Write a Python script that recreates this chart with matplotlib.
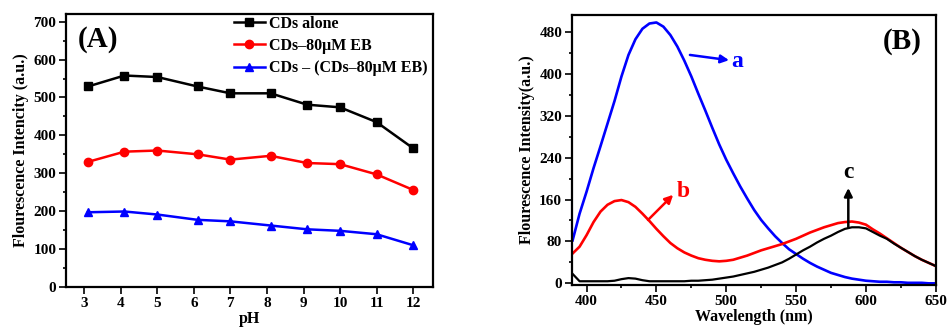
import numpy as np
import matplotlib
matplotlib.use("Agg")
import matplotlib.pyplot as plt
from matplotlib.ticker import MultipleLocator

plt.rcParams['font.family'] = ['Liberation Serif', 'DejaVu Serif']
plt.rcParams['font.weight'] = 'bold'
plt.rcParams['axes.labelweight'] = 'bold'
plt.rcParams['mathtext.default'] = 'regular'

# (A) intensity vs pH
ph = [3.1, 4.1, 5.0, 6.1, 7.0, 8.1, 9.1, 10.0, 11.0, 12.0]
cds_alone = [529, 558, 554, 529, 511, 511, 481, 474, 435, 366]
cds_eb = [330, 357, 360, 350, 336, 346, 327, 324, 297, 256]
cds_diff = [197, 199, 191, 177, 173, 162, 152, 148, 139, 110]

# (B) emission spectra, 390-650 nm every 5 nm
wl = list(range(390, 651, 5))
spec_a = [82, 133, 175, 220, 262, 305, 348, 395, 436, 466, 486, 496, 498, 490,
          474, 452, 425, 395, 362, 330, 297, 265, 236, 210, 185, 162, 140, 121,
          105, 90, 77, 65, 56, 47, 39, 32, 26, 20, 16, 12, 9, 7, 5, 4, 3, 3, 2,
          2, 1, 1, 1, 0, 0]
spec_b = [57, 70, 92, 117, 137, 150, 157, 159, 155, 146, 133, 119, 104, 90,
          77, 67, 59, 53, 48, 45, 43, 42, 43, 45, 49, 53, 58, 63, 67, 71, 75,
          80, 85, 91, 97, 102, 107, 111, 115, 117, 118, 116, 112, 103, 95, 86,
          77, 68, 60, 52, 45, 39, 33]
spec_c = [18, 4, 4, 4, 4, 4, 5, 8, 10, 9, 6, 4, 4, 4, 4, 4, 4, 5, 5, 6, 7, 9,
          11, 13, 16, 19, 22, 26, 30, 35, 40, 47, 55, 63, 70, 78, 85, 91, 98,
          104, 107, 107, 105, 98, 91, 85, 76, 68, 60, 52, 45, 39, 33]

fig = plt.figure(figsize=(9.5, 3.29), dpi=100)
axA = fig.add_axes([0.0695, 0.128, 0.3865, 0.829])
axB = fig.add_axes([0.602, 0.134, 0.383, 0.820])

axA.plot(ph, cds_alone, '-s', color='black', lw=1.8, ms=5.5, label='CDs alone')
axA.plot(ph, cds_eb, '-o', color='red', lw=1.8, ms=6, label='CDs\u201380\u03bcM EB')
axA.plot(ph, cds_diff, '-^', color='blue', lw=1.8, ms=6,
         label='CDs \u2013 (CDs\u201380\u03bcM EB)')
axA.set_xlim(2.5, 12.55)
axA.set_ylim(0, 720)
axA.set_xticks(range(3, 13))
axA.yaxis.set_major_locator(MultipleLocator(100))
axA.yaxis.set_minor_locator(MultipleLocator(50))
axA.set_xlabel('pH', fontsize=11.5, labelpad=1)
axA.set_ylabel('Flourescence Intencity (a.u.)', fontsize=11.5, labelpad=3)
axA.text(3.38, 652, '(A)', fontsize=21, ha='center', va='center')
axA.legend(loc='upper right', bbox_to_anchor=(1.01, 1.03), frameon=False,
           fontsize=11.5, handlelength=2.0, handletextpad=0.2, labelspacing=0.4,
           borderaxespad=0.2)

axB.plot(wl, spec_a, color='blue', lw=1.9)
axB.plot(wl, spec_b, color='red', lw=1.9)
axB.plot(wl, spec_c, color='black', lw=1.6)
axB.set_xlim(389.5, 650)
axB.set_ylim(-3, 512)
axB.xaxis.set_major_locator(MultipleLocator(50))
axB.xaxis.set_minor_locator(MultipleLocator(25))
axB.yaxis.set_major_locator(MultipleLocator(80))
axB.yaxis.set_minor_locator(MultipleLocator(40))
axB.set_xlabel('Wavelength (nm)', fontsize=11.5, labelpad=1)
axB.set_ylabel('Flourescence Intensity(a.u.)', fontsize=11.5, labelpad=3)
axB.text(626, 461, '(B)', fontsize=21, ha='center', va='center')

arrow = dict(arrowstyle='-|>', lw=1.8, mutation_scale=12, shrinkA=0, shrinkB=0)
axB.annotate('', xy=(502, 426), xytext=(474, 436),
             arrowprops=dict(arrow, color='blue'))
axB.text(508, 423, 'a', color='blue', fontsize=17, ha='center', va='center')
axB.annotate('', xy=(462, 169), xytext=(444, 121),
             arrowprops=dict(arrow, color='red'))
axB.text(469.5, 175, 'b', color='red', fontsize=17, ha='center', va='center')
axB.annotate('', xy=(587.4, 182), xytext=(587.4, 107),
             arrowprops=dict(arrow, color='black'))
axB.text(587.4, 212, 'c', color='black', fontsize=17, ha='center', va='center')

for ax in (axA, axB):
    for s in ax.spines.values():
        s.set_linewidth(1.6)
    ax.tick_params(which='both', direction='out', width=1.2, labelsize=11,
                   pad=2)
    ax.tick_params(which='major', length=5)
    ax.tick_params(which='minor', length=2.5)

fig.savefig('out.png', dpi=100)
